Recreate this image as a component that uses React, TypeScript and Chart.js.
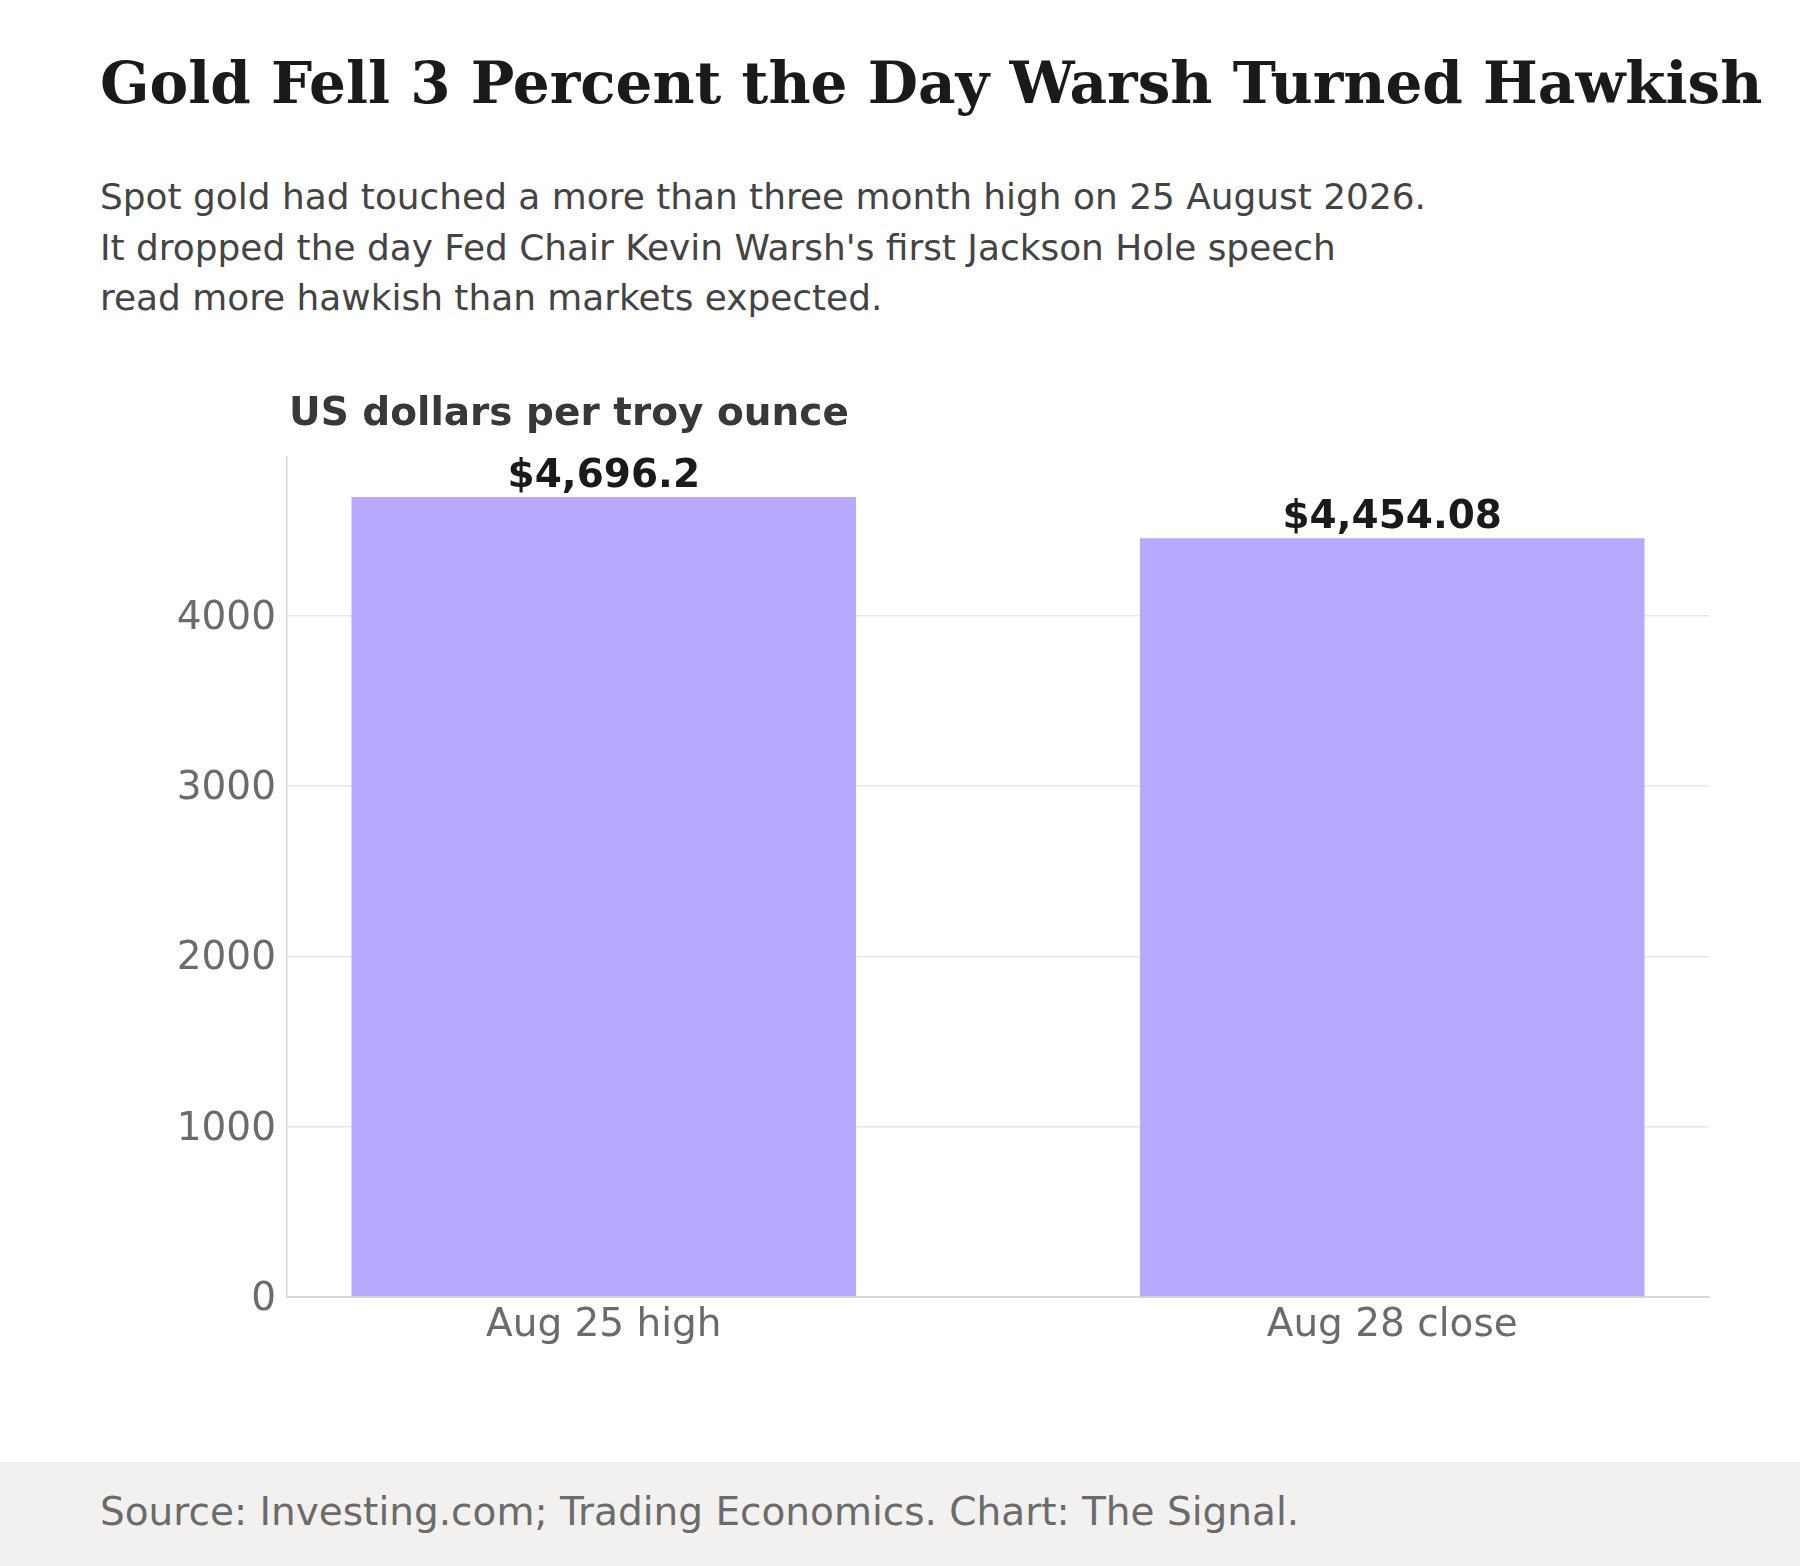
import { useEffect, useRef } from "react";
import { Chart, registerables } from "chart.js";

Chart.register(...registerables);

const categories = ["Aug 25 high", "Aug 28 close"];
const prices = [4696.2, 4454.08];
const priceLabels = ["$4,696.2", "$4,454.08"];
const yTicks = [0, 1000, 2000, 3000, 4000];

const sans = '"DejaVu Sans", Verdana, sans-serif';
const serif = '"DejaVu Serif", Georgia, serif';
const barColor = "#b8a8fe";
const gridColor = "#e6e6e3";
const axisColor = "#d8d7d2";
const tickColor = "#6b6b6b";

const pageCss = `
  body { margin: 0; }
  .gold-page {
    position: relative;
    width: 1800px;
    height: 1566px;
    background: #fff;
    overflow: hidden;
    font-family: ${sans};
  }
  .gold-page .title {
    position: absolute;
    left: 100px;
    top: 54px;
    margin: 0;
    font-family: ${serif};
    font-weight: 700;
    font-size: 58px;
    line-height: 58px;
    color: #1a1a1a;
    white-space: nowrap;
  }
  .gold-page .subtitle {
    position: absolute;
    left: 100px;
    top: 172px;
    margin: 0;
    font-size: 35.9px;
    line-height: 50.7px;
    color: #444;
  }
  .gold-page .unit {
    position: absolute;
    left: 289px;
    top: 392px;
    font-weight: 700;
    font-size: 39px;
    line-height: 39px;
    color: #383838;
    white-space: nowrap;
  }
  .gold-page .chart-box {
    position: absolute;
    left: 0;
    top: 380px;
    width: 1800px;
    height: 1080px;
  }
  .gold-page .footer {
    position: absolute;
    left: 0;
    top: 1462px;
    width: 1800px;
    height: 104px;
    background: #f2f1ef;
  }
  .gold-page .footer span {
    position: absolute;
    left: 100px;
    top: 30px;
    font-size: 39px;
    line-height: 39px;
    color: #6b6b6b;
    white-space: nowrap;
  }
`;

const valueLabels = {
  id: "valueLabels",
  afterDatasetsDraw(chart: Chart) {
    const c = chart.ctx;
    const meta = chart.getDatasetMeta(0);
    c.save();
    c.font = `700 39px ${sans}`;
    c.fillStyle = "#1a1a1a";
    c.textAlign = "center";
    c.textBaseline = "alphabetic";
    meta.data.forEach((bar, i) => {
      c.fillText(priceLabels[i], bar.x, bar.y - 10);
    });
    c.restore();
  },
};

export default function App() {
  const canvasRef = useRef<HTMLCanvasElement>(null);

  useEffect(() => {
    const canvas = canvasRef.current;
    if (!canvas) return;
    const ctx = canvas.getContext("2d");
    if (!ctx) return;

    const chart = new Chart(ctx, {
      type: "bar",
      data: {
        datasets: [
          {
            data: categories.map((_, i) => ({ x: i, y: prices[i] })),
            backgroundColor: barColor,
            borderWidth: 0,
            barPercentage: 0.64,
            categoryPercentage: 1,
          },
        ],
      },
      options: {
        responsive: true,
        maintainAspectRatio: false,
        animation: false,
        layout: { padding: { left: 0, top: 77, right: 91, bottom: 103 } },
        plugins: {
          legend: { display: false },
          tooltip: { enabled: false },
          title: { display: false },
        },
        scales: {
          x: {
            type: "linear",
            offset: false,
            min: -0.4018,
            max: 1.4018,
            grid: { display: false, drawTicks: false },
            border: { display: true, color: axisColor, width: 2 },
            afterBuildTicks(scale) {
              scale.ticks = categories.map((_, i) => ({ value: i }));
            },
            afterFit(scale) {
              scale.height = 60;
            },
            ticks: {
              autoSkip: false,
              maxRotation: 0,
              padding: 5,
              color: tickColor,
              font: { family: sans, size: 39 },
              callback: (v) => categories[Number(v)] ?? "",
            },
          },
          y: {
            min: 0,
            max: Math.max(...prices) * 1.05,
            grid: { color: gridColor, lineWidth: 1.5, drawTicks: false },
            border: { display: true, color: axisColor, width: 1.5 },
            afterBuildTicks(scale) {
              scale.ticks = yTicks.map((value) => ({ value }));
            },
            afterFit(scale) {
              scale.width = 287;
            },
            ticks: {
              padding: 11,
              labelOffset: 3,
              color: tickColor,
              font: { family: sans, size: 39 },
              callback: (v) => String(v),
            },
          },
        },
      },
      plugins: [valueLabels],
    });

    return () => {
      chart.destroy();
    };
  }, []);

  return (
    <div className="gold-page">
      <style>{pageCss}</style>
      <h1 className="title">Gold Fell 3 Percent the Day Warsh Turned Hawkish</h1>
      <p className="subtitle">
        Spot gold had touched a more than three month high on 25 August 2026.
        <br />
        It dropped the day Fed Chair Kevin Warsh's first Jackson Hole speech
        <br />
        read more hawkish than markets expected.
      </p>
      <div className="chart-box">
        <canvas ref={canvasRef} />
      </div>
      <div className="unit">US dollars per troy ounce</div>
      <div className="footer">
        <span>Source: Investing.com; Trading Economics. Chart: The Signal.</span>
      </div>
    </div>
  );
}
